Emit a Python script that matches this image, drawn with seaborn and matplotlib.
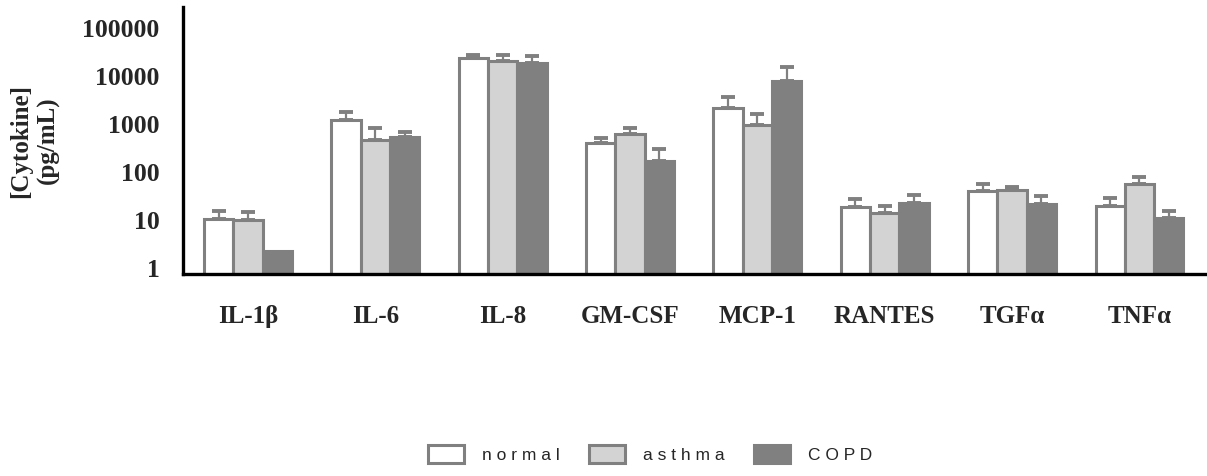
import numpy as np
import pandas as pd
import matplotlib
matplotlib.use("Agg")
import matplotlib.pyplot as plt
import seaborn as sns
from matplotlib.patches import Patch
from matplotlib.ticker import FixedLocator, FixedFormatter

# ---- data (pg/mL, log scale) ----
cytokines = ["IL-1\u03b2", "IL-6", "IL-8", "GM-CSF", "MCP-1", "RANTES", "TGF\u03b1", "TNF\u03b1"]
groups = ["normal", "asthma", "COPD"]
normal_vals = [10.5, 1230, 23700, 414, 2150, 18.7, 40.8, 19.9]
asthma_vals = [10.0, 470, 20900, 630, 970, 14.0, 42.8, 56.0]
copd_vals = [2.3, 550, 18700, 175, 7960, 23.3, 21.9, 11.0]
normal_err_top = [15.9, 1830, 27700, 510, 3760, 27.4, 56.0, 28.7]
asthma_err_top = [15.0, 850, 27700, 850, 1620, 19.9, 50.0, 81.0]
copd_err_top = [None, 700, 26500, 305, 15400, 33.6, 32.0, 15.6]
legend_labels = ["n o r m a l", "a s t h m a", "C O P D"]
ytick_vals = [1, 10, 100, 1000, 10000, 100000]
ytick_labels = ["1", "10", "100", "1000", "10000", "100000"]

values = {"normal": normal_vals, "asthma": asthma_vals, "COPD": copd_vals}
err_tops = {"normal": normal_err_top, "asthma": asthma_err_top, "COPD": copd_err_top}

df = pd.DataFrame(
    [(c, g, values[g][i]) for g in groups for i, c in enumerate(cytokines)],
    columns=["cytokine", "group", "value"],
)

face = {"normal": "#ffffff", "asthma": "#d3d3d3", "COPD": "#808080"}
edge = "#808080"

sns.set_theme(style="white")
plt.rcParams["font.family"] = ["Liberation Serif", "DejaVu Serif"]

fig = plt.figure(figsize=(12.07, 4.76), dpi=100)
ax = fig.add_axes([183 / 1207, 1 - 274 / 476, 1 - 183 / 1207, (274 - 7) / 476])

sns.barplot(
    data=df, x="cytokine", y="value", hue="group", order=cytokines,
    hue_order=groups, palette=face, width=0.69, errorbar=None,
    edgecolor=edge, linewidth=2.2, ax=ax, legend=False, log_scale=(False, True),
)

# error bars (upper only)
for g, cont in zip(groups, ax.containers):
    for i, patch in enumerate(cont.patches):
        top = err_tops[g][i]
        if top is None:
            continue
        xc = patch.get_x() + patch.get_width() / 2
        h = values[g][i]
        ax.errorbar([xc], [h], yerr=[[0], [top - h]], fmt="none", ecolor=edge,
                    elinewidth=1.6, capsize=4.8, capthick=2.8, zorder=1)
    for patch in cont.patches:
        patch.set_zorder(2)

ax.set_yscale("log")
ax.set_ylim(0.76, 2.77e5)
ax.set_xlim(-0.51, 7.53)
ax.yaxis.set_major_locator(FixedLocator(ytick_vals))
ax.yaxis.set_major_formatter(FixedFormatter(ytick_labels))
ax.yaxis.set_minor_locator(FixedLocator([]))
ax.tick_params(axis="y", length=0, pad=17, labelsize=18.5)
ax.tick_params(axis="x", length=0, pad=22, labelsize=18)
for lab in ax.get_xticklabels() + ax.get_yticklabels():
    lab.set_fontweight("bold")

ax.set_xlabel("")
ax.set_ylabel("[Cytokine]\n(pg/mL)", fontsize=18, fontweight="bold", labelpad=16,
              linespacing=1.25)

for s in ["top", "right"]:
    ax.spines[s].set_visible(False)
for s in ["left", "bottom"]:
    ax.spines[s].set_color("black")
    ax.spines[s].set_linewidth(2.4)

handles = [Patch(facecolor=face[g], edgecolor=edge if g != "COPD" else face[g], linewidth=2.2)
           for g in groups]
fig.legend(handles, legend_labels, loc="center", bbox_to_anchor=(650 / 1207, 1 - 454 / 476),
           ncol=3, frameon=False, prop={"family": "Liberation Sans", "size": 12.5},
           handlelength=2.1, handleheight=1.3, columnspacing=1.7, handletextpad=1.0)

fig.savefig("out.png", dpi=100)
